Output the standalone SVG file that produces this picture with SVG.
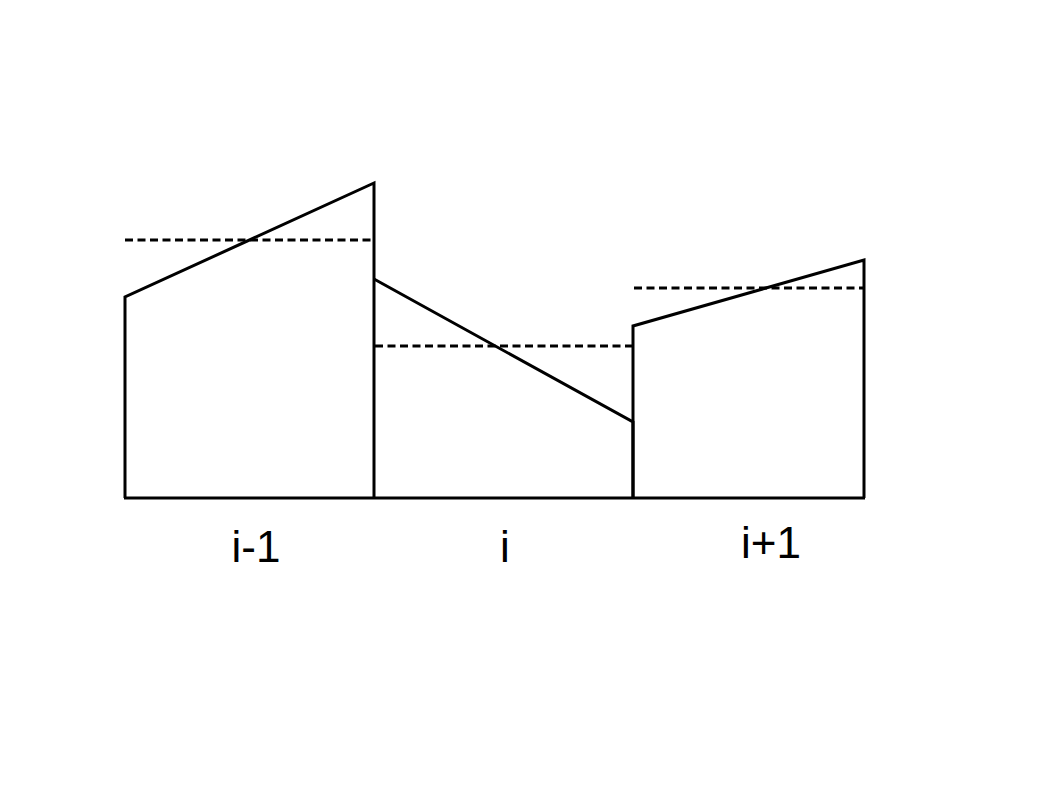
<svg xmlns="http://www.w3.org/2000/svg" width="1058" height="794" viewBox="0 0 1058 794">
<style>
.s{fill:none;stroke:#000;stroke-width:3;stroke-linejoin:miter}
.d{fill:none;stroke:#000;stroke-width:3;stroke-dasharray:8 4.5}
.t{font-family:"Liberation Sans",Arial,sans-serif;font-size:44px;fill:#000;text-anchor:middle}
</style>
<rect width="1058" height="794" fill="#fff"/>
<g id="cell-im1">
<path class="s" d="M125,498 L125,297 L374,183 L374,498"/>
<line class="d" x1="125" y1="240" x2="374" y2="240"/>
<text class="t" x="256" y="562">i-1</text>
</g>
<g id="cell-i">
<path class="s" d="M374,279 L633,422 L633,498"/>
<line class="d" x1="375" y1="346" x2="633" y2="346"/>
<text class="t" x="505" y="562">i</text>
</g>
<g id="cell-ip1">
<path class="s" d="M633,498 L633,326 L864,260 L864,498"/>
<line class="d" x1="634" y1="288" x2="864" y2="288"/>
<text class="t" x="771" y="558">i+1</text>
</g>
<g id="connectors">
<line class="s" x1="124" y1="498" x2="865" y2="498"/>
</g>
</svg>
